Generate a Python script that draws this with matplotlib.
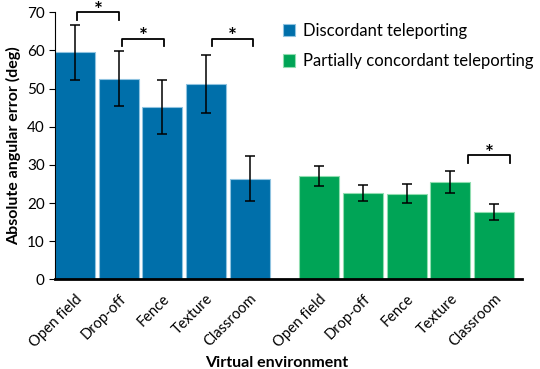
import matplotlib.pyplot as plt
import numpy as np

plt.rcParams['font.family'] = ['Lato', 'DejaVu Sans']

environments = ['Open field', 'Drop-off', 'Fence', 'Texture', 'Classroom']
discordant_mean = [59.5, 52.6, 45.1, 51.3, 26.4]
discordant_err = [7.2, 7.2, 7.1, 7.6, 5.8]
partial_mean = [27.1, 22.7, 22.4, 25.4, 17.6]
partial_err = [2.6, 2.1, 2.5, 2.9, 2.1]

# significance brackets: (left, right, top)
brackets = [(0.05, 1.01, 70.0), (1.08, 2.04, 63.1), (3.13, 4.08, 63.1), (9.01, 9.98, 32.6)]

blue = '#006FAA'
green = '#00A456'
width = 0.92

x_blue = np.arange(5)
x_green = np.arange(5) + 5.6

fig = plt.figure(figsize=(5.4, 3.69), dpi=100)
ax = fig.add_axes([0.102, 0.243, 0.865, 0.724])

ax.bar(x_blue, discordant_mean, width, color=blue, edgecolor='#8FC3E0', linewidth=0.8,
       label='Discordant teleporting', zorder=2)
ax.bar(x_green, partial_mean, width, color=green, edgecolor='#90DDB0', linewidth=0.8,
       label='Partially concordant teleporting', zorder=2)
ax.errorbar(x_blue, discordant_mean, yerr=discordant_err, fmt='none', ecolor='black',
            elinewidth=1.1, capsize=3.5, capthick=1.1, zorder=3)
ax.errorbar(x_green, partial_mean, yerr=partial_err, fmt='none', ecolor='black',
            elinewidth=1.1, capsize=3.5, capthick=1.1, zorder=3)

for l, r, top in brackets:
    ax.plot([l, l, r, r], [top - 2.0, top, top, top - 2.0], color='black', lw=1.3,
            clip_on=False, zorder=4)
    ax.text((l + r) / 2, top - 1.3, '*', ha='center', va='baseline', fontsize=15,
            fontweight='bold', clip_on=False)

ax.set_xlim(-0.46, 10.25)
ax.set_ylim(0, 70)
ax.set_yticks(range(0, 71, 10))
ax.set_xticks(list(x_blue) + list(x_green))
ax.set_xticklabels(environments + environments, rotation=45, ha='right',
                   rotation_mode='anchor', fontsize=10.5)
ax.tick_params(axis='x', length=0, pad=9)
ax.tick_params(axis='y', labelsize=11, length=4, width=0.8, direction='out')

ax.spines['top'].set_visible(False)
ax.spines['right'].set_visible(False)
ax.spines['left'].set_linewidth(0.8)
ax.spines['bottom'].set_linewidth(2)
ax.spines['bottom'].set_zorder(5)

ax.set_xlabel('Virtual environment', fontsize=11.5, fontweight='bold')
ax.xaxis.set_label_coords(0.475, -0.287)
ax.set_ylabel('Absolute angular error (deg)', fontsize=11.5, fontweight='bold', labelpad=4)

ax.legend(loc='upper left', bbox_to_anchor=(0.455, 1.015), frameon=False, fontsize=12,
          handlelength=0.75, handleheight=0.75, handletextpad=0.5, labelspacing=0.85)

fig.savefig('out.png', dpi=100)
